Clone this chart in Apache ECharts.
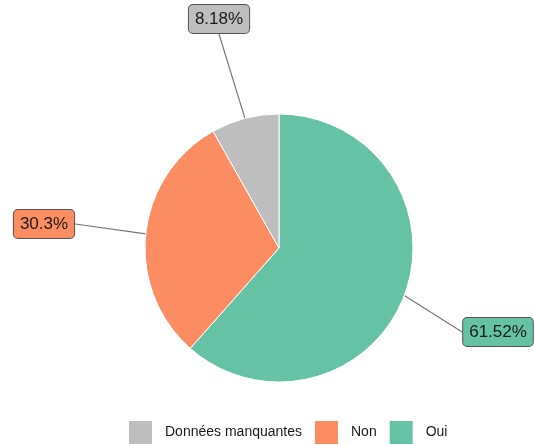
<!DOCTYPE html>
<html>
<head>
<meta charset="utf-8">
<script src="https://cdn.jsdelivr.net/npm/echarts@6/dist/echarts.min.js"></script>
<style>
  html, body { margin: 0; padding: 0; background: #fff; }
  #chart { width: 534px; height: 445px; }
</style>
</head>
<body>
<div id="chart"></div>
<script>
// données (ordre du tracé : sens horaire depuis midi)
var categories = ['Oui', 'Non', 'Données manquantes'];
var values = [61.52, 30.3, 8.18];
var legendOrder = ['Données manquantes', 'Non', 'Oui'];
var colors = ['#66C2A5', '#FC8D62', '#BEBEBE'];

// position des étiquettes (centre de la boîte)
var labelPos = [[498, 332], [44, 224], [219, 19]];

var chart = echarts.init(document.getElementById('chart'));

var data = categories.map(function (name, i) {
  return {
    name: name,
    value: values[i],
    itemStyle: { color: colors[i] },
    label: { backgroundColor: colors[i] }
  };
});

var option = {
  animation: false,
  legend: {
    data: legendOrder,
    left: 127,
    top: 419,
    padding: 0,
    itemWidth: 25,
    itemHeight: 25,
    itemGap: 11,
    icon: 'rect',
    textStyle: {
      fontFamily: 'Liberation Sans',
      fontSize: 14,
      color: '#1a1a1a',
      padding: [0, 0, 0, 7]
    }
  },
  series: [
    {
      type: 'pie',
      center: [279, 248],
      radius: 134,
      startAngle: 90,
      clockwise: true,
      data: data,
      itemStyle: { borderColor: '#fff', borderWidth: 1 },
      label: {
        show: true,
        position: 'outside',
        formatter: function (p) { return p.value + '%'; },
        fontFamily: 'Liberation Sans',
        fontSize: 17,
        color: '#1a1a1a',
        borderColor: '#555',
        borderWidth: 1,
        borderRadius: 4,
        padding: [6, 6, 5, 6]
      },
      labelLine: {
        show: true,
        length: 20,
        length2: 0,
        lineStyle: { color: '#777', width: 1.2 }
      },
      labelLayout: function (params) {
        var p = labelPos[params.dataIndex];
        return { x: p[0], y: p[1], align: 'center', verticalAlign: 'middle' };
      }
    }
  ]
};

chart.setOption(option);
</script>
</body>
</html>
